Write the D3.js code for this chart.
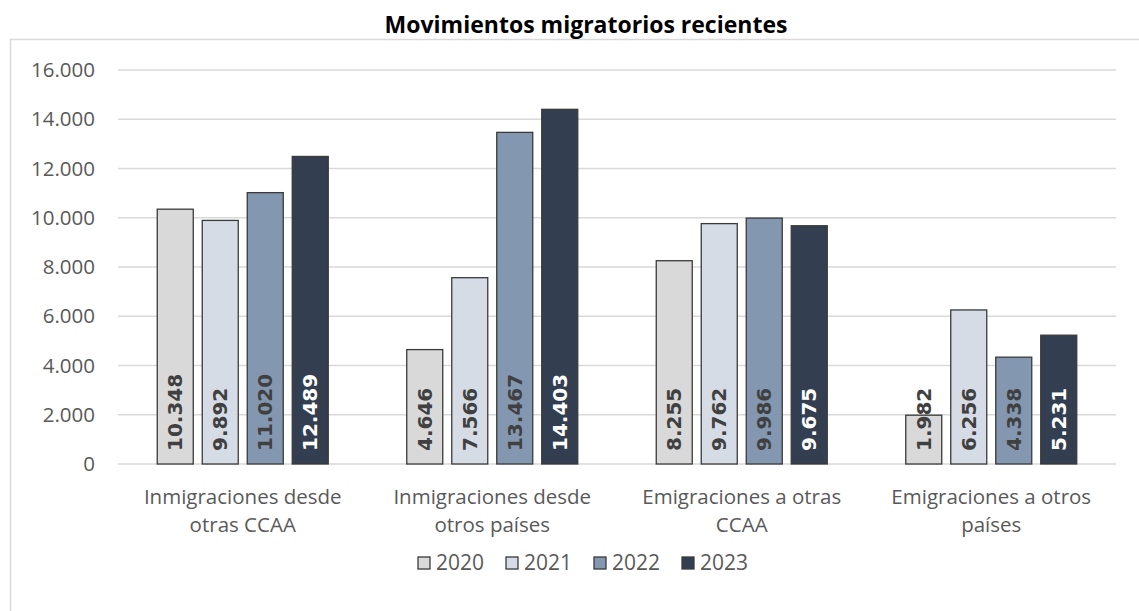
<!DOCTYPE html>
<html>
<head>
<meta charset="utf-8">
<script src="https://d3js.org/d3.v7.min.js"></script>
<style>
  body { margin: 0; background: #fff; }
  .tick-label { font-family: "Open Sans", sans-serif; font-size: 20.5px; fill: #595959; }
  .legend-label { font-family: "Open Sans", sans-serif; font-size: 21px; fill: #595959; }
  .value { font-family: "DejaVu Sans", sans-serif; font-weight: bold; font-size: 20px; }
</style>
</head>
<body>
<script>
// data
const categories = [
  ["Inmigraciones desde", "otras CCAA"],
  ["Inmigraciones desde", "otros países"],
  ["Emigraciones a otras", "CCAA"],
  ["Emigraciones a otros", "países"]
];
const years = ["2020", "2021", "2022", "2023"];
const v2020 = [10348, 4646, 8255, 1982];
const v2021 = [9892, 7566, 9762, 6256];
const v2022 = [11020, 13467, 9986, 4338];
const v2023 = [12489, 14403, 9675, 5231];
const yTicks = [0, 2000, 4000, 6000, 8000, 10000, 12000, 14000, 16000];

const colors = ["#d9d9d9", "#d6dce5", "#8497b0", "#333f50"];
const labelColors = ["#404040", "#404040", "#404040", "#ffffff"];
const series = [v2020, v2021, v2022, v2023];

const fmt = d3.formatLocale({decimal: ",", thousands: ".", grouping: [3], currency: ["", "€"]}).format(",d");

const W = 1139, H = 611;
const svg = d3.select("body").append("svg").attr("width", W).attr("height", H);

// outer frame
svg.append("rect")
  .attr("x", 10.5).attr("y", 39.5)
  .attr("width", W + 10).attr("height", H)
  .attr("fill", "none").attr("stroke", "#d9d9d9").attr("stroke-width", 1.5);

// title
svg.append("text")
  .attr("x", 586).attr("y", 33)
  .attr("text-anchor", "middle")
  .style("font-family", "'Open Sans', sans-serif")
  .style("font-weight", "bold")
  .style("font-size", "23px")
  .attr("fill", "#000")
  .text("Movimientos migratorios recientes");

const left = 118, right = 1116;
const y = d3.scaleLinear().domain([0, 16000]).range([464, 70]);
const x0 = d3.scaleBand().domain(d3.range(categories.length)).range([left, right]);
const x1 = d3.scaleBand().domain(d3.range(years.length)).range([0, 171]).paddingInner(0.2);
const off = (x0.bandwidth() - 171) / 2;

// grid
svg.append("g").selectAll("line").data(yTicks).join("line")
  .attr("x1", left).attr("x2", right)
  .attr("y1", d => y(d)).attr("y2", d => y(d))
  .attr("stroke", "#d9d9d9").attr("stroke-width", 1.5);

// y labels
svg.append("g").selectAll("text").data(yTicks).join("text")
  .attr("class", "tick-label")
  .attr("x", 95).attr("y", d => y(d))
  .attr("dy", "0.35em")
  .attr("text-anchor", "end")
  .text(d => fmt(d));

// bars
const flat = [];
series.forEach((s, si) => s.forEach((v, ci) => flat.push({si, ci, v})));

svg.append("g").selectAll("rect").data(flat).join("rect")
  .attr("x", d => x0(d.ci) + off + x1(d.si))
  .attr("y", d => y(d.v))
  .attr("width", x1.bandwidth())
  .attr("height", d => y(0) - y(d.v))
  .attr("fill", d => colors[d.si])
  .attr("stroke", "#3a3a3a").attr("stroke-width", 1.3);

// value labels
svg.append("g").selectAll("text").data(flat).join("text")
  .attr("class", "value")
  .attr("transform", d => {
    const cx = x0(d.ci) + off + x1(d.si) + x1.bandwidth() / 2;
    return `translate(${cx},${y(0) - 13}) rotate(-90)`;
  })
  .attr("dy", "0.35em")
  .attr("fill", d => labelColors[d.si])
  .text(d => fmt(d.v));

// category labels
const cat = svg.append("g").selectAll("text").data(categories).join("text")
  .attr("class", "tick-label")
  .attr("text-anchor", "middle")
  .attr("x", (d, i) => x0(i) + x0.bandwidth() / 2)
  .attr("y", 504);
cat.selectAll("tspan").data(d => d).join("tspan")
  .attr("x", function() { return this.parentNode.getAttribute("x"); })
  .attr("dy", (d, i) => i === 0 ? 0 : 28)
  .text(d => d);

// legend
const legend = svg.append("g").selectAll("g").data(years).join("g")
  .attr("transform", (d, i) => `translate(${418 + i * 88},563)`);
legend.append("rect")
  .attr("x", 0).attr("y", -6).attr("width", 12).attr("height", 12)
  .attr("fill", (d, i) => colors[i])
  .attr("stroke", "#3a3a3a").attr("stroke-width", 1.3);
legend.append("text")
  .attr("class", "legend-label")
  .attr("x", 18).attr("dy", "0.35em")
  .text(d => d);
</script>
</body>
</html>
